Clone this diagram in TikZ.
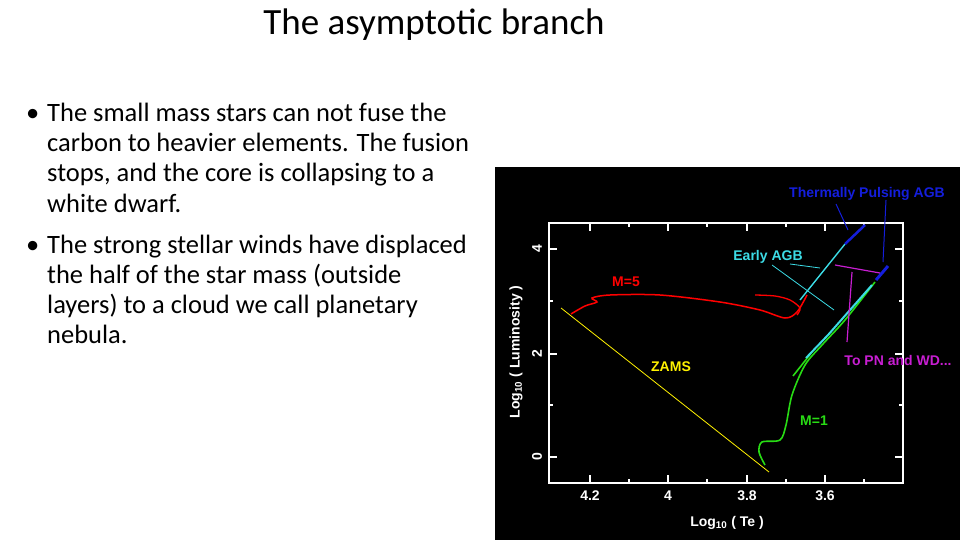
\documentclass[tikz,border=0pt]{standalone}
\usepackage{fontspec}
\setmainfont{Carlito}
\newfontfamily\plotfont{Liberation Sans}[Scale=1]
\definecolor{pmag}{RGB}{200,30,210}
\definecolor{pgreen}{RGB}{40,220,20}
\definecolor{pcyan}{RGB}{60,220,230}
\definecolor{pblue}{RGB}{20,30,220}
\begin{document}
\begin{tikzpicture}[x=1pt,y=-1pt,
  txt/.style={anchor=base west,inner sep=0,font=\fontsize{26.5}{30}\selectfont},
  lab/.style={inner sep=0,font=\plotfont\bfseries\fontsize{14}{16}\selectfont},
  tk/.style={white,line width=1.2pt}]
\useasboundingbox (0,0) rectangle (960,540);
\node[inner sep=0,font=\fontsize{37}{40}\selectfont] (title) at (434,25) {The asymptotic branch};
\node[txt] (b1) at (26,122) {•};
\node[txt] (b2) at (26,253) {•};
\node[txt] (l1) at (47,122) {The small mass stars can not fuse the};
\node[txt] (l2) at (47,152) {carbon to heavier elements. The fusion};
\node[txt] (l3) at (47,182) {stops, and the core is collapsing to a};
\node[txt] (l4) at (47,212) {white dwarf.};
\node[txt] (l5) at (47,253) {The strong stellar winds have displaced};
\node[txt] (l6) at (47,283) {the half of the star mass (outside};
\node[txt] (l7) at (47,313) {layers) to a cloud we call planetary};
\node[txt] (l8) at (47,343) {nebula.};
% plot
\fill[black] (495,167) rectangle (960,540);
\draw[white,line width=1.2pt] (549,223) rectangle (903,483);
\foreach \x in {590,668,747,825}{\draw[tk] (\x,483)--(\x,475); \draw[tk] (\x,223)--(\x,231);}
\foreach \x in {629,707,786,864}{\draw[tk] (\x,483)--(\x,479); \draw[tk] (\x,223)--(\x,227);}
\foreach \y in {249,354,457}{\draw[tk] (549,\y)--(557,\y); \draw[tk] (903,\y)--(895,\y);}
\foreach \y in {301,405}{\draw[tk] (549,\y)--(553,\y); \draw[tk] (903,\y)--(899,\y);}
\foreach \x/\t in {590/4.2,668/4,747/3.8,825/3.6}{\node[lab,white] (tx\t) at (\x,496) {\t};}
\foreach \y/\t in {249/4,354/2,457/0}{\node[lab,white,rotate=90] (ty\t) at (537,\y) {\t};}
\node[lab,white] (xl) at (727,523) {Log\textsubscript{10} ( Te )};
\node[lab,white,rotate=90] (yl) at (516,352) {Log\textsubscript{10} ( Luminosity )};
% ZAMS
\draw[yellow,line width=0.8pt] (561,308) -- (769,472);
% M=5
\draw[red,line width=1.5pt] plot[smooth] coordinates {(571,314) (585,306) (597,302) (592,298) (610,295) (660,295) (720,302) (760,310) (785,318) (797,312) (807,295)};
\draw[red,line width=1.3pt] plot[smooth] coordinates {(755,295) (775,296) (790,300) (800,308) (797,315)};
% M=1
\draw[pgreen,line width=1.6pt] plot[smooth] coordinates {(765,465) (759,452) (762,442) (780,440) (786,425) (792,395) (805,365) (822,345) (845,320) (875,282)};
\draw[pgreen,line width=1.6pt] (793,376) -- (812,352);
% cyan
\draw[pcyan,line width=2pt] (806,358) -- (828,335) -- (850,310) -- (872,285);
\draw[pcyan,line width=1.4pt] (800,300) -- (845,244);
\draw[pcyan,line width=0.8pt] (790,264) -- (820,268);
\draw[pcyan,line width=0.8pt] (772,265) -- (834,310);
% blue
\draw[pblue,line width=2.5pt] (845,244) -- (865,225);
\draw[pblue,line width=3pt] (876,280) -- (888,266);
\draw[pblue,line width=1pt] (836,204) -- (848,230);
\draw[pblue,line width=1pt] (886,200) -- (883,262);
% magenta
\draw[pmag,line width=1.2pt] (835,265) -- (880,273);
\draw[pmag,line width=1.2pt] (852,272) -- (847,342);
% labels
\node[lab,pblue] (tp) at (867,194) {Thermally Pulsing AGB};
\node[lab,pcyan] (ea) at (768,257) {Early AGB};
\node[lab,red] (m5) at (626,282) {M=5};
\node[lab,yellow] (zams) at (671,367) {ZAMS};
\node[lab,pgreen] (m1) at (814,421) {M=1};
\node[lab,pmag] (pn) at (898,360) {To PN and WD...};
\end{tikzpicture}
\end{document}
